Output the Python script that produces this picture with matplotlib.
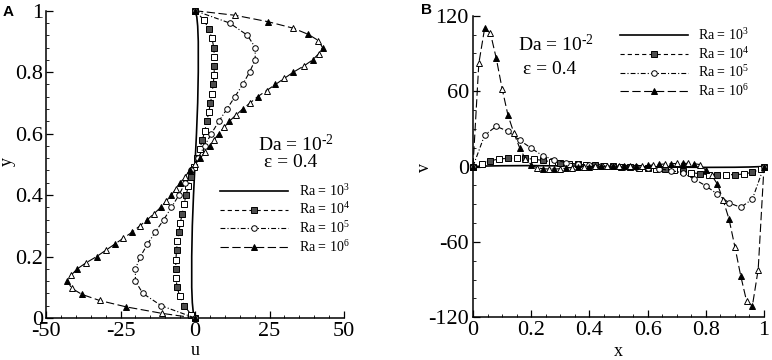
import matplotlib
matplotlib.use('Agg')
import matplotlib.pyplot as plt
from matplotlib.ticker import MultipleLocator

plt.rcParams['font.family'] = ['Liberation Serif', 'DejaVu Serif']
plt.rcParams['mathtext.fontset'] = 'custom'
plt.rcParams['mathtext.rm'] = 'Liberation Serif'
plt.rcParams['mathtext.it'] = 'Liberation Serif:italic'
plt.rcParams['axes.unicode_minus'] = False
plt.rcParams['lines.scale_dashes'] = False

# ---- panel A: u along the vertical centre line ----
y3a = [0.0, 0.02, 0.05, 0.1, 0.2, 0.3, 0.4, 0.5, 0.6, 0.7, 0.8, 0.9, 0.95, 0.98, 1.0]
u3a = [0.0, -0.6, -0.9, -1.1, -1.1, -0.9, -0.5, 0.0, 0.5, 0.9, 1.1, 1.1, 0.9, 0.6, 0.0]

y4a = [1.00, 0.97, 0.94, 0.91, 0.88, 0.85, 0.82, 0.79, 0.76, 0.73, 0.70, 0.67, 0.64, 0.61,
       0.58, 0.55, 0.52, 0.49, 0.46, 0.43, 0.40, 0.37, 0.34, 0.31, 0.28, 0.25, 0.22, 0.19,
       0.16, 0.13, 0.10, 0.07, 0.04, 0.01, 0.0]
u4a = [0.0, 3.0, 4.6, 5.7, 6.3, 6.5, 6.5, 6.4, 6.1, 5.7, 5.2, 4.6, 4.0, 3.3,
       2.5, 1.6, 0.6, -0.3, -1.3, -2.2, -3.0, -3.7, -4.3, -4.9, -5.4, -5.9, -6.2, -6.4,
       -6.5, -6.4, -6.0, -5.1, -3.6, -1.2, 0.0]

y5a = [1.0, 0.96, 0.92, 0.88, 0.84, 0.80, 0.76, 0.72, 0.68, 0.64, 0.60, 0.56, 0.52,
       0.48, 0.44, 0.40, 0.36, 0.32, 0.28, 0.24, 0.20, 0.16, 0.12, 0.08, 0.04, 0.0]
u5a = [0.0, 11.6, 17.6, 20.2, 20.2, 18.3, 16.0, 13.4, 10.7, 8.0, 5.5, 3.2, 1.0,
       -1.2, -3.3, -5.4, -7.9, -10.5, -13.3, -16.0, -18.3, -20.0, -20.0, -17.5, -11.3, 0.0]

y6a = [1.0, 0.985, 0.964, 0.943, 0.923, 0.903, 0.88, 0.86, 0.84, 0.82, 0.80, 0.78, 0.76,
       0.74, 0.72, 0.70, 0.68, 0.66, 0.64, 0.62, 0.60, 0.58, 0.56, 0.54, 0.52, 0.50,
       0.48, 0.46, 0.44, 0.42, 0.40, 0.38, 0.36, 0.34, 0.32, 0.30, 0.28, 0.26, 0.24,
       0.22, 0.20, 0.18, 0.16, 0.14, 0.12, 0.097, 0.077, 0.057, 0.036, 0.015, 0.0]
u6a = [0.0, 13.5, 24.6, 33.0, 38.0, 41.4, 42.8, 41.5, 39.5, 36.5, 33.0, 30.0, 27.0,
       24.0, 21.0, 18.5, 16.0, 13.7, 11.5, 9.7, 8.0, 6.4, 5.0, 3.3, 1.8, 0.0,
       -1.8, -3.3, -5.0, -6.4, -8.0, -9.7, -11.5, -13.7, -16.0, -18.5, -21.0, -24.0, -27.0,
       -30.0, -33.0, -36.5, -39.5, -41.5, -42.8, -41.4, -38.0, -32.0, -23.0, -11.0, 0.0]

# ---- panel B: v along the horizontal centre line ----
x3b = [0.0, 0.05, 0.1, 0.2, 0.3, 0.4, 0.5, 0.6, 0.7, 0.8, 0.9, 0.95, 1.0]
v3b = [0.0, 0.4, 0.6, 0.7, 0.5, 0.25, 0.0, -0.25, -0.5, -0.7, -0.6, -0.4, 0.0]

x4b = [0.0, 0.03, 0.06, 0.09, 0.12, 0.15, 0.18, 0.21, 0.24, 0.27, 0.30, 0.33, 0.36, 0.39,
       0.42, 0.45, 0.48, 0.51, 0.54, 0.57, 0.60, 0.63, 0.66, 0.69, 0.72, 0.75, 0.78, 0.81,
       0.84, 0.87, 0.90, 0.93, 0.96, 0.99, 1.0]
v4b = [0.0, 2.0, 4.6, 6.0, 6.5, 6.6, 6.5, 5.8, 4.8, 3.8, 3.0, 2.3, 1.7, 1.2,
       0.8, 0.4, 0.1, -0.1, -0.4, -0.8, -1.2, -1.7, -2.3, -3.0, -3.8, -4.8, -5.8, -6.5,
       -6.6, -6.5, -6.5, -6.0, -4.6, -2.0, 0.0]

x5b = [0.0, 0.04, 0.08, 0.12, 0.16, 0.20, 0.24, 0.28, 0.32, 0.36, 0.40, 0.44, 0.48,
       0.52, 0.56, 0.60, 0.64, 0.68, 0.72, 0.76, 0.80, 0.84, 0.88, 0.92, 0.96, 1.0]
v5b = [0.0, 25.0, 32.0, 28.0, 21.0, 14.6, 8.5, 5.3, 3.0, 1.8, 1.0, 0.5, 0.1,
       -0.1, -0.5, -1.0, -1.8, -3.2, -5.0, -10.0, -15.4, -22.0, -29.0, -32.5, -26.0, 0.0]

x6b = [0.0, 0.02, 0.04, 0.06, 0.08, 0.10, 0.12, 0.14, 0.16, 0.18, 0.20, 0.22, 0.24,
       0.26, 0.28, 0.30, 0.32, 0.34, 0.36, 0.38, 0.40, 0.42, 0.44, 0.46, 0.48, 0.50,
       0.52, 0.54, 0.56, 0.58, 0.60, 0.62, 0.64, 0.66, 0.68, 0.70, 0.72, 0.74, 0.76,
       0.78, 0.80, 0.82, 0.84, 0.86, 0.88, 0.90, 0.92, 0.94, 0.96, 0.98, 1.0]
v6b = [0.0, 82.0, 110.0, 106.0, 86.0, 62.0, 41.0, 27.0, 15.0, 6.0, 1.5, -1.0, -1.8,
       -2.0, -2.0, -1.8, -1.3, -0.8, -0.4, -0.1, 0.0, 0.1, 0.1, 0.2, 0.2, 0.2,
       0.3, 0.4, 0.5, 0.6, 0.8, 1.3, 1.7, 2.0, 2.2, 2.4, 2.5, 2.5, 2.3,
       1.5, -3.0, -7.0, -14.0, -27.0, -42.0, -64.0, -87.0, -107.0, -111.0, -82.0, 0.0]

labels = ['Ra = 10$^3$', 'Ra = 10$^4$', 'Ra = 10$^5$', 'Ra = 10$^6$']
da_text = 'Da = 10$^{\\text{-2}}$'
eps_text = 'ε = 0.4'

W, H = 772, 360
fig = plt.figure(figsize=(W / 100, H / 100), dpi=100)


def px_axes(l, t, r, b):
    return fig.add_axes([l / W, 1 - b / H, (r - l) / W, (b - t) / H])


def series(ax, x, y, dashes, marker, fill, label):
    line, = ax.plot(x, y, color='k', lw=0.8, dashes=dashes, marker=marker, ms=4,
                    mfc=fill, mec='k', mew=0.7, markevery=slice(0, None, 2),
                    clip_on=False, label=label, zorder=3)
    ax.plot(x[1::2], y[1::2], ls='none', marker=marker, ms=4, mfc='white',
            mec='k', mew=0.7, clip_on=False, zorder=3)
    return line


def style(ax):
    for s in ['top', 'right']:
        ax.spines[s].set_visible(False)
    for s in ['left', 'bottom']:
        ax.spines[s].set_linewidth(1.1)
    ax.tick_params(which='both', direction='in', labelsize=16, width=0.9)
    ax.tick_params(which='major', length=5)
    ax.tick_params(which='minor', length=2.5, width=0.6)


# panel A
axA = px_axes(46, 10.7, 344, 318)
hA = []
hA.append(axA.plot(u3a, y3a, color='k', lw=1.2, clip_on=False, label=labels[0])[0])
hA.append(series(axA, u4a, y4a, (3, 2.2), 's', '0.3', labels[1]))
hA.append(series(axA, u5a, y5a, (3.5, 1.5, 0.8, 1.5), 'o', 'white', labels[2]))
hA.append(series(axA, u6a, y6a, (6, 2.5), '^', 'k', labels[3]))
axA.set_xlim(-50, 50)
axA.set_ylim(0, 1)
axA.xaxis.set_major_locator(MultipleLocator(25))
axA.xaxis.set_minor_locator(MultipleLocator(5))
axA.set_yticks([0, 0.2, 0.4, 0.6, 0.8, 1.0], ['0', '0.2', '0.4', '0.6', '0.8', '1'])
axA.yaxis.set_minor_locator(MultipleLocator(0.04))
style(axA)
axA.tick_params(axis='y', pad=2)
axA.tick_params(axis='x', pad=3)
axA.legend(handles=hA, loc='upper left', bbox_to_anchor=(0.584, 0.44), frameon=False,
           fontsize=10, handlelength=4.9, handletextpad=0.75, labelspacing=0.2,
           borderpad=0, borderaxespad=0, numpoints=1)
axA.text(0.84, 0.563, da_text, transform=axA.transAxes, ha='center', va='center',
         fontsize=14)
axA.text(0.82, 0.505, eps_text, transform=axA.transAxes, ha='center', va='center',
         fontsize=14)

# panel B
axB = px_axes(473, 15.7, 764, 317.3)
hB = []
hB.append(axB.plot(x3b, v3b, color='k', lw=1.2, clip_on=False, label=labels[0])[0])
hB.append(series(axB, x4b, v4b, (3, 2.2), 's', '0.3', labels[1]))
hB.append(series(axB, x5b, v5b, (3.5, 1.5, 0.8, 1.5), 'o', 'white', labels[2]))
hB.append(series(axB, x6b, v6b, (6, 2.5), '^', 'k', labels[3]))
axB.set_xlim(0, 1)
axB.set_ylim(-120, 120)
axB.set_xticks([0, 0.2, 0.4, 0.6, 0.8, 1.0], ['0', '0.2', '0.4', '0.6', '0.8', '1'])
axB.xaxis.set_minor_locator(MultipleLocator(0.05))
axB.yaxis.set_major_locator(MultipleLocator(60))
axB.yaxis.set_minor_locator(MultipleLocator(15))
style(axB)
axB.tick_params(axis='y', pad=3)
axB.tick_params(axis='x', pad=3)
axB.legend(handles=hB, loc='upper left', bbox_to_anchor=(0.505, 0.962), frameon=False,
           fontsize=10, handlelength=4.9, handletextpad=0.75, labelspacing=0.2,
           borderpad=0, borderaxespad=0, numpoints=1)
axB.text(0.285, 0.903, da_text, transform=axB.transAxes, ha='center', va='center',
         fontsize=14)
axB.text(0.265, 0.823, eps_text, transform=axB.transAxes, ha='center', va='center',
         fontsize=14)

# axis titles and panel letters
fig.text(195 / W, 1 - 355 / H, 'u', ha='center', va='baseline', fontsize=13)
fig.text(7 / W, 1 - 162 / H, 'y', ha='center', va='center', fontsize=13, rotation=90)
fig.text(618 / W, 1 - 356 / H, 'x', ha='center', va='baseline', fontsize=13)
fig.text(425 / W, 1 - 167 / H, 'v', ha='center', va='center', fontsize=13, rotation=90)
fig.text(8.5 / W, 1 - 11.5 / H, 'A', ha='center', va='center', fontsize=11,
         fontweight='bold', family='Liberation Sans')
fig.text(426.5 / W, 1 - 10.5 / H, 'B', ha='center', va='center', fontsize=11,
         fontweight='bold', family='Liberation Sans')

fig.savefig('out.png', dpi=100)
